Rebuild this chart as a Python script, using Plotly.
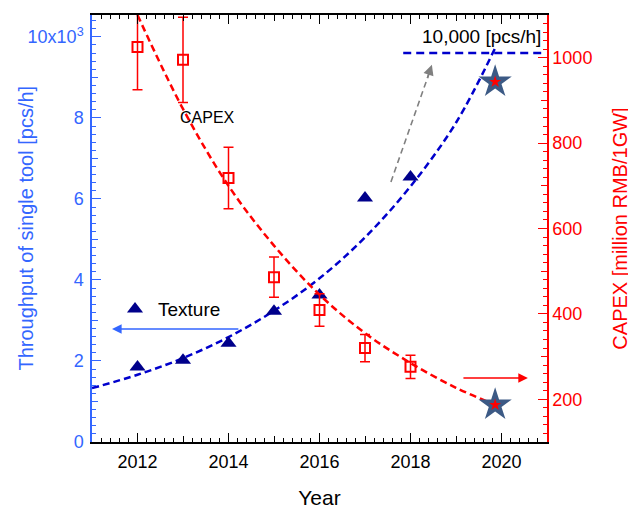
import plotly.graph_objects as go

# ---------------- data ----------------
years = [2012, 2013, 2014, 2015, 2016, 2017, 2018]
throughput = [1.85, 2.02, 2.44, 3.23, 3.63, 6.02, 6.54]          # x10^3 pcs/h
capex = [1025, 995, 718, 486, 409, 320, 276]                      # million RMB / 1GW
capex_err = [100, 100, 72, 47, 38, 32, 27]

target_year = [2019.86]
target_throughput = [8.89]
target_capex = [187]

fit_years_tp = [2011, 2012, 2013, 2014, 2015, 2016, 2017, 2018, 2019, 2019.85]
fit_tp = [1.33, 1.66, 2.07, 2.59, 3.24, 4.04, 5.05, 6.31, 7.88, 9.7]
fit_years_cx = [2012, 2013, 2014, 2015, 2016, 2017, 2018, 2019, 2019.8]
fit_cx = [1100, 880, 700, 560, 445, 355, 285, 227, 190]

goal_years = [2017.84, 2020.9]
goal_level = [9.6, 9.6]

x_ticks = [2012, 2014, 2016, 2018, 2020]
x_mid_ticks = [2011, 2013, 2015, 2017, 2019, 2021]
y_ticks = [0, 2, 4, 6, 8, 10]
y_ticktext = ["0", "2", "4", "6", "8", "10x10<sup>3</sup>"]
y_mid_ticks = [1, 3, 5, 7, 9]
y2_ticks = [200, 400, 600, 800, 1000]
y2_mid_ticks = [100, 300, 500, 700, 900, 1100]

FONT = "Liberation Sans, Arial, sans-serif"
AX_BLUE = "#3366ff"
RED = "#ff0000"
NAVY = "#00008b"
DBLUE = "#0000cc"
STAR = "#3c5a85"

# the page body adds an 8px offset, so the figure is drawn 8px smaller
W, H = 628, 503
ML, MR, MT, MB = 84, 89, 7, 69
PW = W - ML - MR

fig = go.Figure()

# fitted trend curves
fig.add_trace(go.Scatter(x=fit_years_cx, y=fit_cx, yaxis="y2", mode="lines",
                         line=dict(color=RED, width=2.5, dash="7px,4px", shape="spline"),
                         showlegend=False, hoverinfo="skip"))
fig.add_trace(go.Scatter(x=fit_years_tp, y=fit_tp, mode="lines",
                         line=dict(color=DBLUE, width=2.5, dash="7px,4px", shape="spline"),
                         showlegend=False, hoverinfo="skip"))
fig.add_trace(go.Scatter(x=goal_years, y=goal_level, mode="lines",
                         line=dict(color=DBLUE, width=2.5, dash="8px,5px"),
                         showlegend=False, hoverinfo="skip"))

# CAPEX squares with error bars
fig.add_trace(go.Scatter(x=years, y=capex, yaxis="y2", mode="markers", name="CAPEX",
                         marker=dict(symbol="square-open", size=10, color=RED, line=dict(width=2, color=RED)),
                         error_y=dict(type="data", array=capex_err, visible=True, color=RED,
                                      thickness=1.5, width=5),
                         showlegend=False))

# Throughput triangles
fig.add_trace(go.Scatter(x=years, y=throughput, mode="markers", name="Texture",
                         marker=dict(symbol="triangle-up", size=14, color=NAVY),
                         showlegend=True))

# target stars
fig.add_trace(go.Scatter(x=target_year, y=target_throughput, mode="markers",
                         marker=dict(symbol="star", size=25, color=STAR, line=dict(width=0)),
                         showlegend=False))
fig.add_trace(go.Scatter(x=target_year, y=target_throughput, mode="markers",
                         marker=dict(symbol="star", size=9, color=RED, line=dict(width=0)),
                         showlegend=False))
fig.add_trace(go.Scatter(x=target_year, y=target_capex, yaxis="y2", mode="markers",
                         marker=dict(symbol="star", size=25, color=STAR, line=dict(width=0)),
                         showlegend=False))
fig.add_trace(go.Scatter(x=target_year, y=target_capex, yaxis="y2", mode="markers",
                         marker=dict(symbol="star", size=9, color=RED, line=dict(width=0)),
                         showlegend=False))

# dummy traces for the medium-length tick axes
fig.add_trace(go.Scatter(x=[None], y=[None], xaxis="x3", yaxis="y3", showlegend=False, hoverinfo="skip"))
fig.add_trace(go.Scatter(x=[None], y=[None], xaxis="x3", yaxis="y4", showlegend=False, hoverinfo="skip"))

# gray dashed arrow (line + head)
fig.add_shape(type="line", xref="x", yref="y", x0=2017.57, y0=6.42, x1=2018.44, y1=9.2,
              line=dict(color="#808080", width=1.6, dash="6px,4px"))
fig.add_annotation(x=2018.47, y=9.31, ax=2018.36, ay=8.95, xref="x", yref="y", axref="x", ayref="y",
                   text="", showarrow=True, arrowhead=2, arrowsize=1.3, arrowwidth=1.6, arrowcolor="#808080")

# blue and red direction arrows
fig.add_annotation(x=2011.44, y=2.79, ax=2014.25, ay=2.79, xref="x", yref="y", axref="x", ayref="y",
                   text="", showarrow=True, arrowhead=2, arrowsize=1.2, arrowwidth=1.6, arrowcolor=AX_BLUE)
fig.add_annotation(x=2020.58, y=250, ax=2019.13, ay=250, xref="x", yref="y2", axref="x", ayref="y2",
                   text="", showarrow=True, arrowhead=2, arrowsize=1.2, arrowwidth=1.6, arrowcolor=RED)

# text labels
fig.add_annotation(x=2013.53, y=861, xref="x", yref="y2", text="CAPEX", showarrow=False,
                   font=dict(family=FONT, size=16, color="black"))
fig.add_annotation(x=2019.55, y=10.0, xref="x", yref="y", text="10,000 [pcs/h]", showarrow=False,
                   font=dict(family=FONT, size=19, color="black"))

# left axis title (placed explicitly so it can sit closer to the tick labels)
fig.add_annotation(x=(17 - ML) / PW, y=0.5, xref="paper", yref="paper", xanchor="center", yanchor="middle",
                   text="Throughput of single tool [pcs/h]", textangle=-90, showarrow=False,
                   font=dict(family=FONT, size=20, color=AX_BLUE))

fig.update_layout(
    width=W, height=H,
    margin=dict(l=ML, r=MR, t=MT, b=MB, autoexpand=False),
    plot_bgcolor="white", paper_bgcolor="white",
    font=dict(family=FONT, size=18, color="black"),
    showlegend=True,
    legend=dict(x=0.044, y=0.311, xanchor="left", yanchor="middle", bgcolor="rgba(0,0,0,0)",
                font=dict(family=FONT, size=19, color="black"), borderwidth=0, itemwidth=36),
    xaxis=dict(range=[2011, 2021], tickmode="array", tickvals=x_ticks, ticks="inside", ticklen=9,
               tickwidth=1.3, tickcolor="black", showline=True, linecolor="black", linewidth=1.5,
               mirror="ticks", showgrid=False, zeroline=False, automargin=False, ticklabelstandoff=3,
               tickfont=dict(family=FONT, size=18, color="black"),
               minor=dict(dtick=0.2, tick0=2011, ticks="inside", ticklen=4, tickcolor="black", tickwidth=1),
               title=dict(text="Year", font=dict(family=FONT, size=21, color="black"), standoff=19)),
    xaxis3=dict(overlaying="x", anchor="y", range=[2011, 2021], tickmode="array", tickvals=x_mid_ticks,
                ticks="inside", ticklen=6, tickwidth=1.2, tickcolor="black", showticklabels=False,
                showline=True, linecolor="black", linewidth=1.5, mirror="ticks", showgrid=False,
                zeroline=False, automargin=False),
    yaxis=dict(range=[0, 10.54], tickmode="array", tickvals=y_ticks, ticktext=y_ticktext,
               ticks="inside", ticklen=9, tickwidth=1.3, tickcolor=AX_BLUE, showline=True,
               linecolor=AX_BLUE, linewidth=1.5, showgrid=False, zeroline=False, automargin=False,
               ticklabelstandoff=3,
               tickfont=dict(family=FONT, size=18, color=AX_BLUE),
               minor=dict(dtick=0.2, tick0=0, ticks="inside", ticklen=4, tickcolor=AX_BLUE, tickwidth=1)),
    yaxis3=dict(overlaying="y", anchor="x", range=[0, 10.54], tickmode="array", tickvals=y_mid_ticks,
                ticks="inside", ticklen=6, tickwidth=1.2, tickcolor=AX_BLUE, showticklabels=False,
                showline=False, showgrid=False, zeroline=False, automargin=False),
    yaxis2=dict(overlaying="y", side="right", anchor="x", range=[100, 1100], tickmode="array",
                tickvals=y2_ticks, ticks="inside", ticklen=9, tickwidth=1.3, tickcolor=RED,
                showline=True, linecolor=RED, linewidth=1.5, showgrid=False, zeroline=False,
                automargin=False,
                tickfont=dict(family=FONT, size=18, color=RED),
                minor=dict(dtick=20, tick0=100, ticks="inside", ticklen=4, tickcolor=RED, tickwidth=1),
                title=dict(text="CAPEX [million RMB/1GW]", font=dict(family=FONT, size=20, color=RED),
                           standoff=22)),
    yaxis4=dict(overlaying="y", side="right", anchor="x", range=[100, 1100], tickmode="array",
                tickvals=y2_mid_ticks, ticks="inside", ticklen=6, tickwidth=1.2, tickcolor=RED,
                showticklabels=False, showline=False, showgrid=False, zeroline=False, automargin=False),
)

fig.write_html("out.html")
